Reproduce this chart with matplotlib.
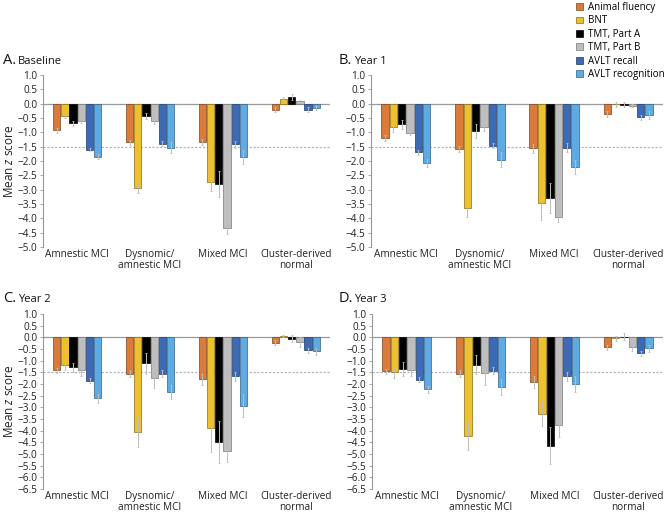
import numpy as np
import matplotlib
matplotlib.use("Agg")
import matplotlib.pyplot as plt

plt.rcParams['font.family'] = ['Open Sans', 'DejaVu Sans']
plt.rcParams['mathtext.fontset'] = 'custom'
plt.rcParams['mathtext.it'] = 'Open Sans:italic'
plt.rcParams['mathtext.rm'] = 'Open Sans'

groups = ['Amnestic MCI', 'Dysnomic/\namnestic MCI', 'Mixed MCI', 'Cluster-derived\nnormal']
tests = ['Animal fluency', 'BNT', 'TMT, Part A', 'TMT, Part B', 'AVLT recall', 'AVLT recognition']
colors = ['#DB7B3A', '#ECC02E', '#000000', '#BEBEBE', '#3C6AB4', '#5EAAE2']
edges = ['#7a4420', '#8a6d10', '#000000', '#777777', '#1f3b6a', '#2f5f85']

# values: rows = groups, columns = tests
baseline = [[-0.93, -0.43, -0.69, -0.59, -1.60, -1.85],
            [-1.35, -2.95, -0.43, -0.60, -1.39, -1.53],
            [-1.33, -2.73, -2.80, -4.35, -1.42, -1.85],
            [-0.21, 0.16, 0.23, 0.08, -0.21, -0.14]]
baseline_err = [[0.08, 0.08, 0.10, 0.10, 0.06, 0.08],
                [0.08, 0.15, 0.12, 0.12, 0.10, 0.18],
                [0.10, 0.32, 0.45, 0.18, 0.12, 0.25],
                [0.08, 0.08, 0.10, 0.05, 0.08, 0.07]]

year1 = [[-1.21, -0.83, -0.72, -1.01, -1.70, -2.07],
         [-1.59, -3.64, -0.95, -0.80, -1.46, -1.95],
         [-1.56, -3.45, -3.28, -3.94, -1.53, -2.21],
         [-0.36, -0.02, -0.03, -0.07, -0.48, -0.39]]
year1_err = [[0.10, 0.15, 0.15, 0.10, 0.10, 0.15],
             [0.10, 0.33, 0.25, 0.15, 0.10, 0.25],
             [0.15, 0.62, 0.52, 0.20, 0.17, 0.25],
             [0.10, 0.08, 0.10, 0.05, 0.10, 0.13]]

year2 = [[-1.41, -1.17, -1.29, -1.39, -1.86, -2.61],
         [-1.57, -4.07, -1.10, -1.73, -1.57, -2.36],
         [-1.80, -3.90, -4.50, -4.89, -1.67, -2.93],
         [-0.23, 0.05, -0.07, -0.20, -0.56, -0.60]]
year2_err = [[0.10, 0.25, 0.20, 0.25, 0.10, 0.20],
             [0.15, 0.65, 0.45, 0.45, 0.15, 0.30],
             [0.25, 1.00, 0.90, 0.45, 0.20, 0.50],
             [0.10, 0.05, 0.15, 0.20, 0.12, 0.15]]

year3 = [[-1.46, -1.50, -1.36, -1.41, -1.81, -2.23],
         [-1.57, -4.24, -1.17, -1.53, -1.43, -2.14],
         [-1.90, -3.27, -4.64, -3.76, -1.67, -2.01],
         [-0.43, -0.04, 0.03, -0.43, -0.69, -0.47]]
year3_err = [[0.10, 0.25, 0.30, 0.25, 0.10, 0.15],
             [0.15, 0.60, 0.40, 0.50, 0.15, 0.35],
             [0.25, 0.55, 0.80, 0.50, 0.20, 0.35],
             [0.10, 0.10, 0.15, 0.15, 0.10, 0.15]]

panels = [('A.', 'Baseline', baseline, baseline_err, -5.0),
          ('B.', 'Year 1', year1, year1_err, -5.0),
          ('C.', 'Year 2', year2, year2_err, -6.5),
          ('D.', 'Year 3', year3, year3_err, -6.5)]

W, H = 668, 513
fig = plt.figure(figsize=(W / 100, H / 100), dpi=100)

# axes boxes in pixels: left, top, right, bottom
boxes = [(43, 75, 330, 247), (371, 75, 663, 247),
         (43, 314, 330, 489), (372, 314, 663, 489)]
title_pos = [(3, 60), (339, 61), (3, 298), (339, 298)]

x = np.arange(len(groups))
bw = 0.10
pitch = 0.113
handles = None
for i, (letter, name, vals, errs, ymin) in enumerate(panels):
    l, t, r, b = boxes[i]
    ax = fig.add_axes([l / W, 1 - b / H, (r - l) / W, (b - t) / H])
    vals = np.array(vals)
    errs = np.array(errs)
    hs = []
    for j in range(len(tests)):
        xs = x + (j - 2.5) * pitch
        bars = ax.bar(xs, vals[:, j], bw, color=colors[j], edgecolor=edges[j],
                      linewidth=0.5, zorder=3, label=tests[j])
        ax.errorbar(xs, vals[:, j], yerr=errs[:, j], fmt='none', ecolor='#bdbdbd',
                    elinewidth=0.7, capsize=1.0, capthick=0.6, zorder=4)
        hs.append(bars)
    if handles is None:
        handles = hs
    ax.axhline(0, color='#9a9a9a', lw=0.9, zorder=2)
    ax.axhline(-1.5, color='#b0b0b0', lw=0.8, ls=(0, (2, 1.5)), zorder=1)
    ax.set_xlim(-0.47, 3.47)
    ax.set_ylim(ymin, 1.0)
    ticks = np.arange(ymin, 1.01, 0.5)
    ax.set_yticks(ticks)
    ax.set_yticklabels([('%.1f' % v).replace('-', '\u2212') if abs(v) > 1e-9 else '0.0'
                        for v in ticks])
    ax.set_xticks(x)
    ax.set_xticklabels(groups, fontsize=7.2, color='#222222', linespacing=0.95)
    ax.tick_params(axis='x', length=0, pad=1.5)
    ax.tick_params(axis='y', labelsize=7.2, length=2.5, width=0.6, color='#999999',
                   pad=1.5, labelcolor='#222222')
    for s in ['top', 'right', 'bottom']:
        ax.spines[s].set_visible(False)
    ax.spines['left'].set_color('#999999')
    ax.spines['left'].set_linewidth(0.8)
    if i in (0, 2):
        ax.set_ylabel('Mean $\\it{z}$ score', fontsize=8.5, color='#222222', labelpad=1)
    tx, ty = title_pos[i]
    fig.text(tx / W, 1 - ty / H, letter, fontsize=10.5, va='center', ha='left', color='#111111')
    fig.text((tx + 15) / W, 1 - (ty + 1) / H, name, fontsize=8, va='center', ha='left',
             color='#111111')

fig.legend(handles, tests, loc='upper left', bbox_to_anchor=(574 / W, 1 - 0 / H),
           frameon=False, fontsize=7.0, handlelength=0.7, handleheight=0.7,
           handletextpad=0.5, labelspacing=0.25, borderpad=0.2, borderaxespad=0)

fig.savefig('out.png', dpi=100)
